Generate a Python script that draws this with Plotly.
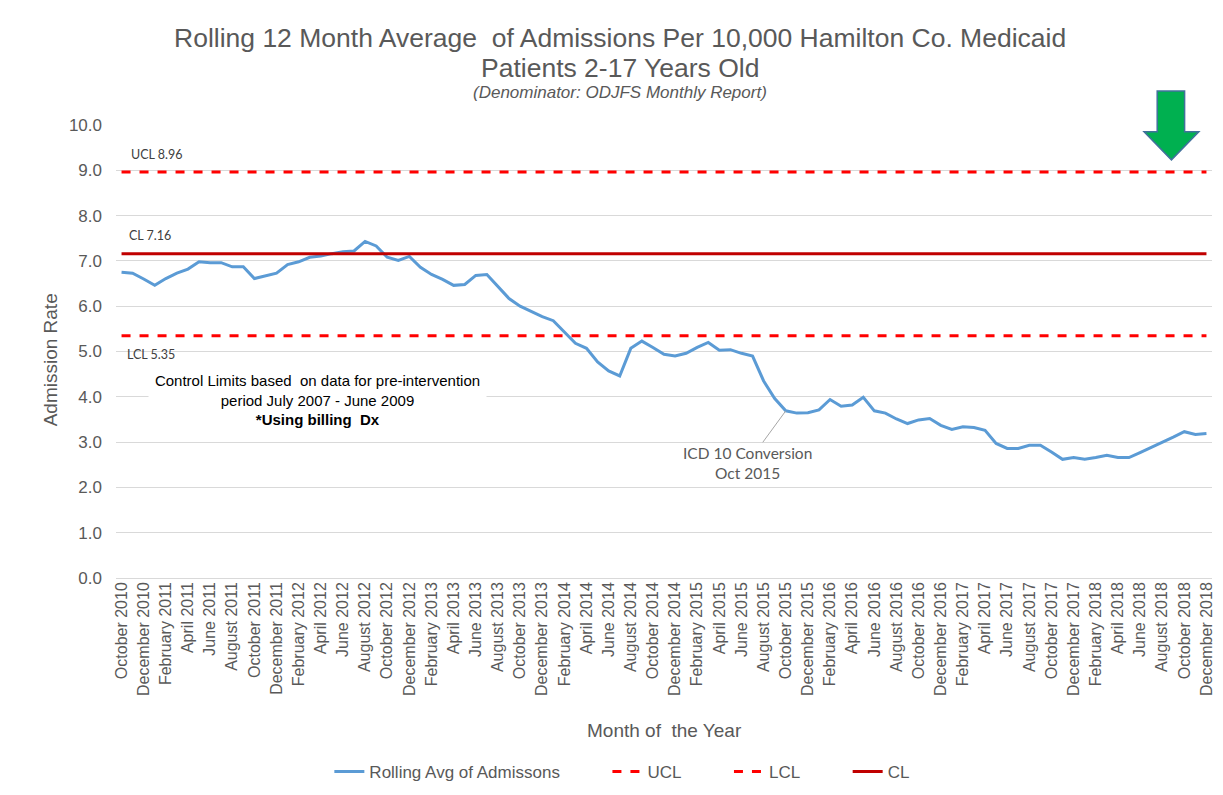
import plotly.graph_objects as go

month_names = ["January", "February", "March", "April", "May", "June", "July",
               "August", "September", "October", "November", "December"]
months = []
y, m = 2010, 9
while (y, m) <= (2018, 11):
    months.append(f"{month_names[m]} {y}")
    m += 1
    if m == 12:
        m = 0
        y += 1

rolling_avg = [6.75, 6.73, 6.60, 6.46, 6.61, 6.73, 6.82, 6.98, 6.96, 6.96,
               6.87, 6.87, 6.61, 6.67, 6.73, 6.92, 6.98, 7.08, 7.11, 7.16,
               7.20, 7.22, 7.43, 7.33, 7.08, 7.01, 7.10, 6.86, 6.70, 6.59,
               6.46, 6.48, 6.68, 6.70, 6.44, 6.17, 6.00, 5.89, 5.77, 5.68,
               5.42, 5.18, 5.07, 4.77, 4.57, 4.46, 5.07, 5.23, 5.09, 4.94,
               4.90, 4.96, 5.09, 5.20, 5.03, 5.04, 4.96, 4.90, 4.35, 3.96,
               3.69, 3.64, 3.65, 3.71, 3.94, 3.79, 3.82, 3.99, 3.69, 3.64,
               3.51, 3.41, 3.49, 3.52, 3.37, 3.28, 3.34, 3.32, 3.26, 2.97,
               2.86, 2.86, 2.93, 2.93, 2.78, 2.62, 2.66, 2.62, 2.66, 2.71,
               2.66, 2.66, 2.77, 2.88, 3.00, 3.11, 3.23, 3.17, 3.19]

UCL = 8.96
LCL = 5.35
CL = 7.16
tick_labels = months[::2]

gray = "#595959"
arial = "Liberation Sans, Arial"
pad = "\u00a0" * 9  # extra spacing between legend entries

fig = go.Figure()
fig.add_trace(go.Scatter(x=months, y=rolling_avg, mode="lines",
                         name="Rolling Avg of Admissons" + pad,
                         line=dict(color="#5B9BD5", width=3)))
fig.add_trace(go.Scatter(x=months, y=[UCL] * len(months), mode="lines", name="UCL" + pad,
                         line=dict(color="#FF0000", width=3, dash="dash")))
fig.add_trace(go.Scatter(x=months, y=[LCL] * len(months), mode="lines", name="LCL" + pad,
                         line=dict(color="#FF0000", width=3, dash="dash")))
fig.add_trace(go.Scatter(x=months, y=[CL] * len(months), mode="lines", name="CL",
                         line=dict(color="#C00000", width=3)))

# the page body adds an 8px margin, so the figure is 8px smaller and shifted
fig.update_layout(
    width=1215, height=787,
    margin=dict(l=108, r=11, t=117, b=217, autoexpand=False),
    paper_bgcolor="white", plot_bgcolor="white",
    font=dict(family=arial, color=gray),
    showlegend=True,
    legend=dict(orientation="h", x=0.462, xanchor="center", y=-0.428, yanchor="middle",
                font=dict(size=17, color=gray), traceorder="normal"),
    xaxis=dict(type="category", tickmode="array", tickvals=tick_labels, ticktext=tick_labels,
               tickangle=-90, tickfont=dict(size=16, color=gray), showgrid=False,
               showline=False, ticks="", range=[-0.5, len(months) - 0.5], automargin=False),
    yaxis=dict(range=[0, 10], dtick=1, tickformat=".1f", tickfont=dict(size=17, color=gray),
               showgrid=True, gridcolor="#D9D9D9", gridwidth=1, zeroline=True,
               zerolinecolor="#D9D9D9", zerolinewidth=1, ticks="", ticklabelstandoff=13,
               automargin=False),
)

# titles
fig.add_annotation(text="Rolling 12 Month Average  of Admissions Per 10,000 Hamilton Co. Medicaid",
                   xref="paper", yref="paper", x=0.460, y=1.192, xanchor="center", yanchor="middle",
                   showarrow=False, font=dict(size=26.5, color=gray, family=arial))
fig.add_annotation(text="Patients 2-17 Years Old",
                   xref="paper", yref="paper", x=0.460, y=1.126, xanchor="center", yanchor="middle",
                   showarrow=False, font=dict(size=26.5, color=gray, family=arial))
fig.add_annotation(text="<i>(Denominator: ODJFS Monthly Report)</i>", xref="paper", yref="paper",
                   x=0.460, y=1.071, xanchor="center", yanchor="middle", showarrow=False,
                   font=dict(size=17, color=gray, family=arial))
fig.add_annotation(text="Month of  the Year", xref="paper", yref="paper",
                   x=0.5, y=-0.336, xanchor="center", yanchor="middle", showarrow=False,
                   font=dict(size=19, color=gray, family=arial))
fig.add_annotation(text="Admission Rate", xref="paper", yref="paper", textangle=-90,
                   x=-0.060, y=0.481, xanchor="center", yanchor="middle", showarrow=False,
                   font=dict(size=19, color=gray, family=arial))

label_font = dict(family="Lato, Liberation Sans", size=12.5, color="#404040")
fig.add_annotation(text="UCL 8.96", xref="paper", yref="paper", x=0.012, y=0.934,
                   xanchor="left", yanchor="middle", showarrow=False, font=label_font)
fig.add_annotation(text="CL 7.16", xref="paper", yref="paper", x=0.010, y=0.755,
                   xanchor="left", yanchor="middle", showarrow=False, font=label_font)
fig.add_annotation(text="LCL 5.35", xref="paper", yref="paper", x=0.008, y=0.494,
                   xanchor="left", yanchor="middle", showarrow=False, font=label_font)

fig.add_annotation(text="Control Limits based  on data for pre-intervention<br>period July 2007 - June 2009<br><b>*Using billing  Dx</b>",
                   xref="paper", yref="paper", x=0.184, y=0.393, xanchor="center", yanchor="middle",
                   showarrow=False, bgcolor="white", width=335, align="center",
                   font=dict(size=15, color="black", family=arial))

fig.add_annotation(text="ICD 10 Conversion<br>Oct 2015", x=months[60], y=rolling_avg[60],
                   xref="x", yref="y", ax=-38, ay=52, showarrow=True, arrowhead=0,
                   arrowwidth=1, arrowcolor="#A6A6A6", align="center",
                   font=dict(family="Lato, Liberation Sans", size=15.5, color=gray))

# green down arrow
arrow_path = ("M 0.950 1.075 L 0.975 1.075 L 0.975 0.985 L 0.988 0.985 "
              "L 0.963 0.923 L 0.938 0.985 L 0.950 0.985 Z")
fig.add_shape(type="path", path=arrow_path, xref="paper", yref="paper",
              fillcolor="#00B050", line=dict(color="#41719C", width=1.5))

fig.write_html("out.html")
